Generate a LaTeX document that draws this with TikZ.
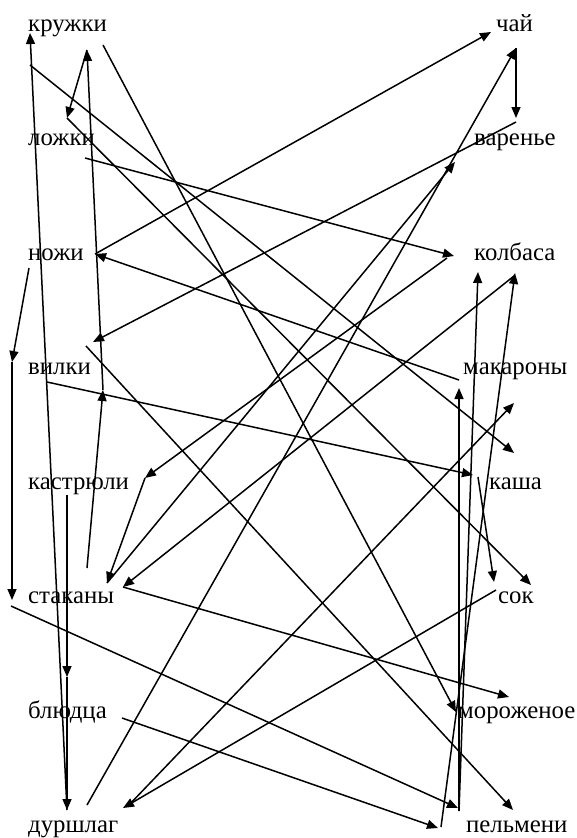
\documentclass[tikz,border=0pt]{standalone}
\usepackage{fontspec}
\setmainfont{Liberation Serif}
\usetikzlibrary{arrows.meta}
\begin{document}
\begin{tikzpicture}[x=1pt,y=-1pt,
  lbl/.style={anchor=base west, inner sep=0pt, font=\fontsize{24.8}{29}\selectfont},
  con/.style={line width=1.5pt, -{Triangle[length=11pt,width=9pt]}}]
\fill[white] (0,0) rectangle (576,838);
\useasboundingbox (0,0) rectangle (576,838);
% left column
\node[lbl] (kruzhki) at (28,31) {кружки};
\node[lbl] (lozhki) at (28,145.5) {ложки};
\node[lbl] (nozhi) at (28,260) {ножи};
\node[lbl] (vilki) at (28,374.5) {вилки};
\node[lbl] (kastr) at (28,489) {кастрюли};
\node[lbl] (stakany) at (28,603.5) {стаканы};
\node[lbl] (bludca) at (28,718) {блюдца};
\node[lbl] (durshlag) at (28,832.5) {дуршлаг};
% right column
\node[lbl] (chai) at (496,31) {чай};
\node[lbl] (varenie) at (474,145.5) {варенье};
\node[lbl] (kolbasa) at (474,260) {колбаса};
\node[lbl] (makarony) at (463,374.5) {макароны};
\node[lbl] (kasha) at (489,489) {каша};
\node[lbl] (sok) at (498,603.5) {сок};
\node[lbl] (morozh) at (458,718) {мороженое};
\node[lbl] (pelmeni) at (466,832.5) {пельмени};
% connector end points
\coordinate (kA) at (30,33);
\coordinate (kB) at (87,50);
\coordinate (kC) at (30,65);
\coordinate (kD) at (103,45);
\coordinate (lA) at (67,118);
\coordinate (lB) at (85,158);
\coordinate (nA) at (95,254);
\coordinate (nB) at (29,268);
\coordinate (L1) at (12,362);
\coordinate (L2) at (12,600);
\coordinate (L3) at (11,606);
\coordinate (vA) at (93,342);
\coordinate (vS) at (86,346);
\coordinate (vB) at (47,382);
\coordinate (vC) at (103,390);
\coordinate (ksA) at (145,478);
\coordinate (ksC) at (67,495);
\coordinate (sA) at (87,568);
\coordinate (sB) at (107,583);
\coordinate (sC) at (123,587);
\coordinate (bA) at (67,677);
\coordinate (bB) at (122,718);
\coordinate (dA) at (67,810);
\coordinate (dB) at (87,805);
\coordinate (dC) at (123,808);
\coordinate (dD) at (128,806);
\coordinate (cA) at (491,32);
\coordinate (cB) at (516,48);
\coordinate (vrA) at (516,118);
\coordinate (vrB) at (516,122);
\coordinate (vrC) at (455,162);
\coordinate (kbA) at (454,256);
\coordinate (kbB) at (447,258);
\coordinate (kbC) at (478,272);
\coordinate (kbD) at (515,273);
\coordinate (kbE) at (514,276);
\coordinate (mA) at (459,388);
\coordinate (mB) at (459,380);
\coordinate (mC) at (514,403);
\coordinate (kaA) at (514,453);
\coordinate (kaB) at (473,475);
\coordinate (kaC) at (478,477);
\coordinate (sokA) at (494,582);
\coordinate (sokB) at (531,585);
\coordinate (sokC) at (496,590);
\coordinate (moA) at (456,712);
\coordinate (moB) at (509,697);
\coordinate (pA) at (458,808);
\coordinate (pA2) at (459,811);
\coordinate (pB) at (438,828);
\coordinate (pB2) at (441,827);
\coordinate (pC) at (513,810);
% connectors
\draw[con] (dA) -- (kA);
\draw[con] (sA) -- (vC);
\draw[con] (vC) -- (kB);
\draw[con] (kB) -- (lA);
\draw[con] (kC) -- (kaA);
\draw[con] (kD) -- (moA);
\draw[con] (lB) -- (kbA);
\draw[con] (lA) -- (sokB);
\draw[con] (mB) -- (nA);
\draw[con] (nA) -- (cA);
\draw[con] (nB) -- (L1);
\draw[con] (L1) -- (L2);
\draw[con] (L3) -- (pA);
\draw[con] (vrB) -- (vA);
\draw[con] (vS) -- (pC);
\draw[con] (vB) -- (kaB);
\draw[con] (kaC) -- (sokA);
\draw[con] (kbB) -- (ksA);
\draw[con] (ksA) -- (sB);
\draw[con] (sB) -- (vrC);
\draw[con] (kbE) -- (sC);
\draw[con] (ksC) -- (bA);
\draw[con] (bA) -- (dA);
\draw[con] (bB) -- (pB);
\draw[con] (dB) -- (cB);
\draw[con] (cB) -- (vrA);
\draw[con] (sokC) -- (dC);
\draw[con] (dD) -- (mC);
\draw[con] (sC) -- (moB);
\draw[con] (pA2) -- (mA);
\draw[con] (pA2) -- (kbC);
\draw[con] (pB2) -- (kbD);
\end{tikzpicture}
\end{document}
